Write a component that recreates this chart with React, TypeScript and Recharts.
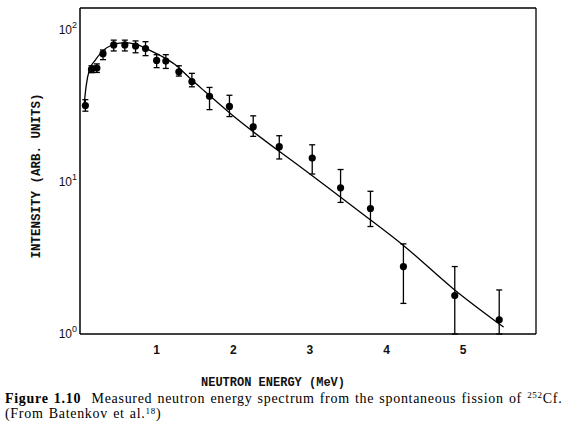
import React from "react";
import { ComposedChart, Line, Scatter, XAxis, YAxis, ErrorBar } from "recharts";

// measured points (MeV, arb. units) with error bar ends
const energy = [0.07, 0.15, 0.22, 0.3, 0.44, 0.585, 0.725, 0.855, 1.0, 1.12, 1.29, 1.46, 1.69, 1.95, 2.26, 2.6, 3.03, 3.4, 3.79, 4.22, 4.89, 5.47];
const intensity = [31.9, 55.2, 56.3, 70.1, 80, 80, 78.7, 75.7, 63.2, 62.6, 53.2, 45.9, 36.7, 31.5, 23.1, 17.1, 14.4, 9.17, 6.7, 2.78, 1.79, 1.24];
const errLow = [29.3, 52.5, 52.7, 64, 73, 73, 71, 68, 56.7, 56, 49.9, 42.4, 30, 27, 20, 14.2, 11.3, 7.35, 5.1, 1.59, 1.0, 1.0];
const errHigh = [34.9, 58.3, 60, 74.1, 86, 86, 85, 84, 69, 69, 58.3, 52, 42, 37.3, 27.3, 20.2, 17.6, 12.1, 8.7, 3.92, 2.78, 1.95];

// fitted curve
const fitEnergy = [0.05, 0.08, 0.124, 0.19, 0.277, 0.408, 0.58, 0.735, 0.886, 1.06, 1.235, 1.453, 1.627, 1.954, 3.022, 3.654, 4.22, 4.873, 5.527];
const fitIntensity = [30.8, 42.8, 55.2, 62.6, 71.2, 79.6, 82.9, 80.8, 74.8, 67.6, 59.6, 47.3, 39.6, 28.5, 11.1, 6.36, 3.83, 1.98, 1.11];

const xTicks = [1, 2, 3, 4, 5];
const yTicks = [1, 10, 100];
const yMinorTicks = [1, 2, 3, 4, 5, 6, 7, 8, 9, 10, 20, 30, 40, 50, 60, 70, 80, 90, 100];

const points = energy.map((x, i) => ({
  x,
  y: intensity[i],
  err: [intensity[i] - errLow[i], errHigh[i] - intensity[i]],
}));
const fit = fitEnergy.map((x, i) => ({ x, y: fitIntensity[i] }));

const X_DOMAIN: [number, number] = [0, 5.95];
const Y_DOMAIN: [number, number] = [1, 140];

const PowerTick = (props: any) => {
  const { x, y, payload } = props;
  const exp = Math.round(Math.log10(payload.value));
  return (
    <text x={x} y={y + 4} textAnchor="end" fontFamily="Liberation Sans" fontSize={12} fill="#111">
      10<tspan dy={-6} fontSize={9}>{exp}</tspan>
    </text>
  );
};

export default function App() {
  return (
    <div style={{ position: "absolute", left: 0, top: 0, width: 570, height: 429, background: "#fff" }}>
      <ComposedChart
        width={570}
        height={429}
        margin={{ top: 8, right: 34, bottom: 65, left: 0 }}
      >
        <XAxis
          dataKey="x"
          type="number"
          domain={X_DOMAIN}
          allowDataOverflow
          ticks={xTicks}
          tickLine={false}
          tickSize={0}
          tickMargin={11}
          height={30}
          axisLine={{ stroke: "#000", strokeWidth: 1.5 }}
          tick={{ fontFamily: "Liberation Sans", fontSize: 12, fill: "#111", fontWeight: "bold" }}
        />
        <XAxis
          xAxisId="in"
          type="number"
          domain={X_DOMAIN}
          allowDataOverflow
          ticks={xTicks}
          mirror
          tick={false}
          tickSize={4}
          axisLine={false}
          tickLine={{ stroke: "#000", strokeWidth: 1.3 }}
        />
        <XAxis
          xAxisId="top"
          orientation="top"
          type="number"
          domain={X_DOMAIN}
          mirror
          tick={false}
          tickLine={false}
          axisLine={{ stroke: "#000", strokeWidth: 1.3 }}
        />
        <YAxis
          type="number"
          scale="log"
          domain={Y_DOMAIN}
          allowDataOverflow
          ticks={yTicks}
          width={80}
          tickLine={false}
          tickSize={0}
          tickMargin={3}
          tick={<PowerTick />}
          axisLine={{ stroke: "#000", strokeWidth: 1.5 }}
        />
        <YAxis
          yAxisId="in"
          type="number"
          scale="log"
          domain={Y_DOMAIN}
          allowDataOverflow
          ticks={yMinorTicks}
          mirror
          tick={false}
          tickSize={4}
          axisLine={false}
          tickLine={{ stroke: "#000", strokeWidth: 1.2 }}
        />
        <YAxis
          yAxisId="right"
          orientation="right"
          type="number"
          scale="log"
          domain={Y_DOMAIN}
          mirror
          tick={false}
          tickLine={false}
          axisLine={{ stroke: "#000", strokeWidth: 1.3 }}
        />
        <Line
          data={fit}
          dataKey="y"
          type="monotone"
          stroke="#000"
          strokeWidth={1.3}
          dot={false}
          isAnimationActive={false}
        />
        <Scatter
          data={points}
          dataKey="y"
          fill="#000"
          isAnimationActive={false}
          shape={(p: any) => <circle cx={p.cx} cy={p.cy} r={3.6} fill="#000" />}
        >
          <ErrorBar dataKey="err" direction="y" width={3} stroke="#000" strokeWidth={1.3} />
        </Scatter>
      </ComposedChart>

      <div
        style={{
          position: "absolute",
          left: 273,
          top: 383,
          transform: "translate(-50%, -50%)",
          fontFamily: "Liberation Mono",
          fontWeight: "bold",
          fontSize: 12,
          whiteSpace: "nowrap",
          color: "#111",
        }}
      >
        NEUTRON ENERGY (MeV)
      </div>
      <div
        style={{
          position: "absolute",
          left: 37,
          top: 176,
          transform: "translate(-50%, -50%) rotate(-90deg)",
          fontFamily: "Liberation Mono",
          fontWeight: "bold",
          fontSize: 12.5,
          whiteSpace: "nowrap",
          color: "#111",
        }}
      >
        INTENSITY (ARB. UNITS)
      </div>
      <div
        style={{
          position: "absolute",
          left: 5,
          top: 391,
          fontFamily: "Liberation Serif",
          fontSize: 14,
          lineHeight: "16px",
          letterSpacing: "0.7px",
          wordSpacing: "1px",
          color: "#000",
          whiteSpace: "nowrap",
        }}
      >
        <div>
          <b>Figure 1.10</b>&nbsp; Measured neutron energy spectrum from the spontaneous fission of{" "}
          <sup style={{ fontSize: 9, verticalAlign: "5px", lineHeight: 0 }}>252</sup>Cf.
        </div>
        <div style={{ marginTop: -1 }}>
          (From Batenkov et al.<sup style={{ fontSize: 9, verticalAlign: "4px", lineHeight: 0 }}>18</sup>)
        </div>
      </div>
    </div>
  );
}
